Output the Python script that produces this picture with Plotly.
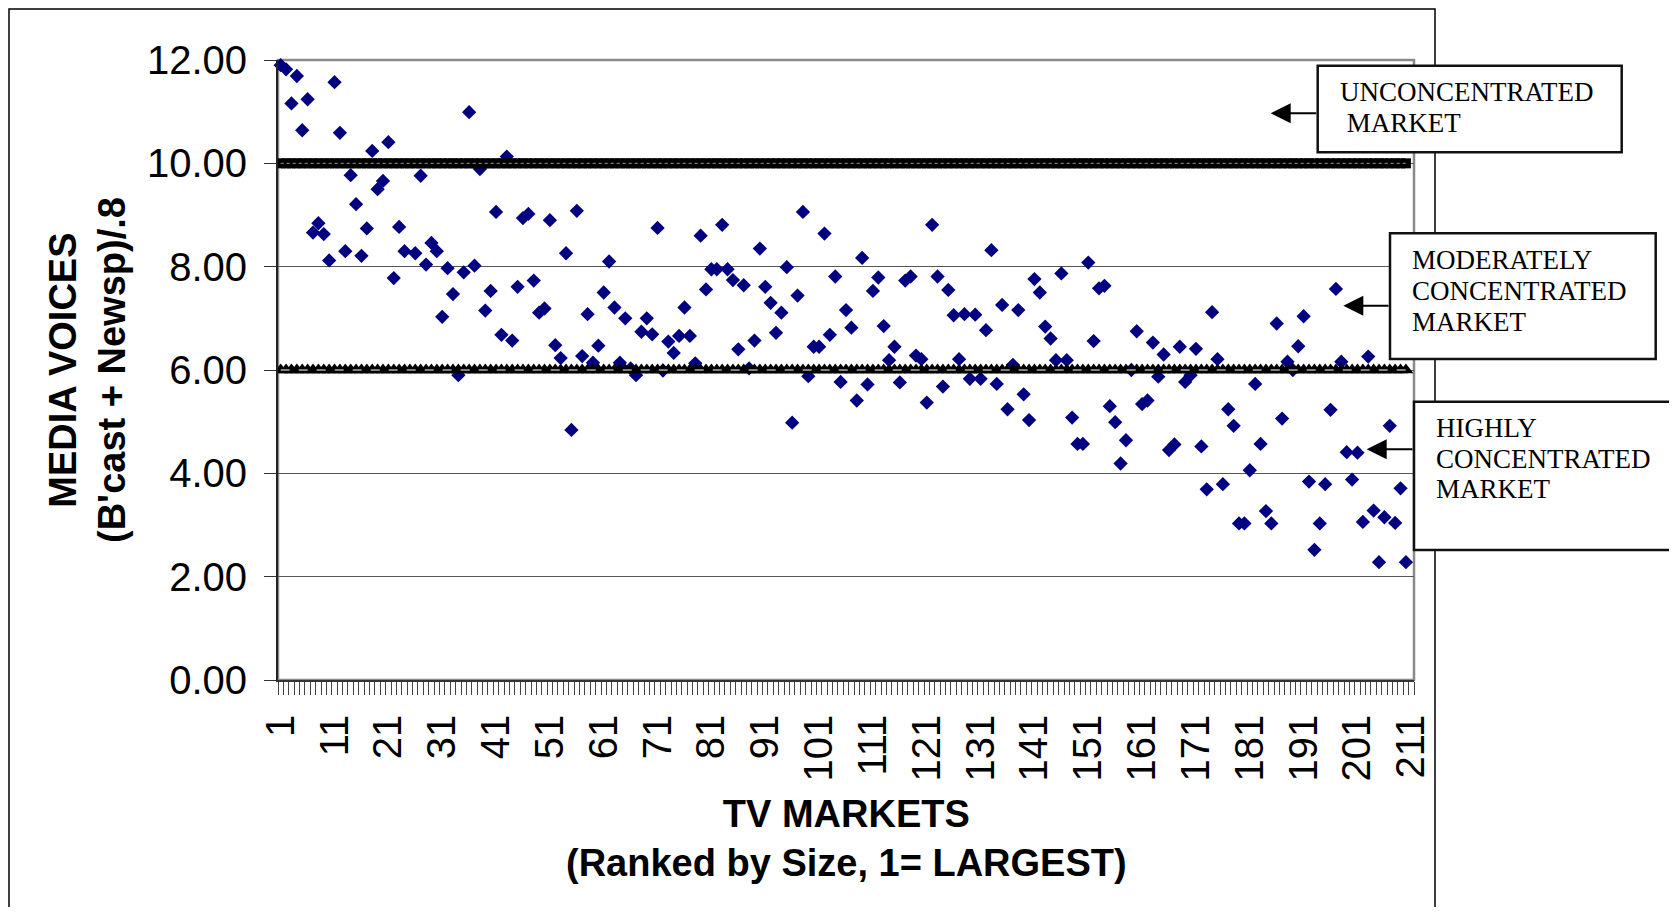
import plotly.graph_objects as go

# ---------- data ----------
markets = list(range(1, 211))
voices = [
    11.90, 11.82, 11.16, 11.69, 10.64, 11.24, 8.66, 8.84, 8.63, 8.12,
    11.57, 10.59, 8.30, 9.77, 9.21, 8.21, 8.74, 10.24, 9.50, 9.66,
    10.41, 7.78, 8.77, 8.30, None, 8.26, 9.76, 8.04, 8.46, 8.30,
    7.03, 7.97, 7.47, 5.90, 7.89, 10.99, 8.02, 9.89, 7.15, 7.53,
    9.06, 6.68, 10.13, 6.57, 7.61, 8.94, 9.02, 7.73, 7.11, 7.19,
    8.90, 6.48, 6.23, 8.26, 4.84, 9.08, 6.27, 7.08, 6.14, 6.47,
    7.50, 8.10, 7.21, 6.14, 7.00, 6.03, 5.90, 6.74, 7.00, 6.69,
    8.75, 5.99, 6.55, 6.33, 6.66, 7.21, 6.66, 6.13, 8.60, 7.56,
    7.95, 7.95, 8.81, 7.95, 7.74, 6.40, 7.64, 6.03, 6.57, 8.35,
    7.61, 7.30, 6.72, 7.11, 7.99, 4.98, 7.44, 9.06, 5.88, 6.45,
    6.45, 8.64, 6.68, 7.81, 5.77, 7.16, 6.82, 5.41, 8.17, 5.72,
    7.53, 7.79, 6.85, 6.19, 6.45, 5.76, 7.73, 7.81, 6.28, 6.21,
    5.37, 8.81, 7.81, 5.68, 7.55, 7.06, 6.21, 7.08, 5.83, 7.07,
    5.83, 6.77, 8.32, 5.73, 7.26, 5.24, 6.10, 7.16, 5.53, 5.03,
    7.76, 7.50, 6.84, 6.61, 6.19, 7.87, 6.19, 5.08, 4.57, 4.57,
    8.08, 6.56, 7.58, 7.63, 5.30, 4.99, 4.19, 4.64, 6.00, 6.75,
    5.34, 5.41, 6.53, 5.87, 6.30, 4.45, 4.56, 6.45, 5.77, 5.90,
    6.41, 4.52, 3.69, 7.12, 6.21, 3.79, 5.24, 4.92, 3.03, 3.03,
    4.06, 5.73, 4.57, 3.27, 3.03, 6.90, 5.06, 6.16, 6.00, 6.46,
    7.04, 3.84, 2.52, 3.03, 3.79, 5.23, 7.57, 6.16, 4.41, 3.88,
    4.40, 3.06, 6.26, 3.28, 2.28, 3.15, 4.92, 3.04, 3.71, 2.28,
]
# threshold series (drawn as marker lines in the original)
unconcentrated = [10.0] * len(markets)
highly_conc = [6.0] * len(markets)

x_ticks = list(range(1, 212, 10))
y_ticks = [0, 2, 4, 6, 8, 10, 12]

# ---------- geometry, in page pixels (page has an 8px body margin) ----------
OFF = 8
W, H = 1677 - 2 * OFF, 915 - 2 * OFF
L, R, T, B = 278, 1414, 60, 680


def px(x):
    return (x - L) / (R - L)


def py(y):
    return (B - y) / (B - T)


fig = go.Figure()

fig.add_trace(go.Scatter(
    x=markets, y=voices, mode="markers",
    marker=dict(symbol="diamond", size=11, color="#000080"),
    showlegend=False, cliponaxis=False))

# 10.00 line: dense black squares with a faint dotted core
fig.add_trace(go.Scatter(
    x=markets, y=unconcentrated, mode="markers",
    marker=dict(symbol="square", size=10, color="black", line=dict(width=0)),
    showlegend=False))
fig.add_trace(go.Scatter(
    x=markets, y=unconcentrated, mode="lines",
    line=dict(color="#9a9a9a", width=1, dash="dot"),
    showlegend=False, hoverinfo="skip"))

# 6.00 line: black triangles
fig.add_trace(go.Scatter(
    x=markets, y=highly_conc, mode="lines+markers",
    line=dict(color="black", width=2),
    marker=dict(symbol="triangle-up", size=13, color="black"),
    showlegend=False))
fig.add_trace(go.Scatter(
    x=markets, y=highly_conc, mode="lines",
    line=dict(color="white", width=1, dash="dash"),
    showlegend=False, hoverinfo="skip"))

shapes = [
    # outer chart frame
    dict(type="rect", xref="paper", yref="paper",
         x0=px(9), x1=px(1435), y0=py(960), y1=py(9),
         line=dict(color="black", width=1.5), layer="below"),
    # plot area frame
    dict(type="rect", xref="paper", yref="paper", x0=0, x1=1, y0=0, y1=1,
         line=dict(color="#8a8a8a", width=2.5), layer="below"),
]

# label boxes
boxes = [(1317.7, 1621.7, 65.7, 152.3), (1390, 1655.7, 233.3, 359),
         (1414, 1700, 401.7, 550)]
for x0, x1, y0, y1 in boxes:
    shapes.append(dict(type="rect", xref="paper", yref="paper",
                       x0=px(x0), x1=px(x1), y0=py(y1), y1=py(y0),
                       fillcolor="white", line=dict(color="#111111", width=2.5),
                       layer="above"))

serif = dict(family="Liberation Serif, Times New Roman, serif", size=27, color="black")
annotations = []
box_text = [
    (1338, [("UNCONCENTRATED", 92.5), (" MARKET", 122.5)]),
    (1410, [("MODERATELY", 260), ("CONCENTRATED", 290.5), ("MARKET", 321.7)]),
    (1434, [("HIGHLY", 428), ("CONCENTRATED", 458.5), ("MARKET", 489.2)]),
]
for xl, lines in box_text:
    for txt, yc in lines:
        annotations.append(dict(xref="paper", yref="paper", x=px(xl), y=py(yc),
                                text=txt.replace(" ", "&nbsp;"), showarrow=False,
                                xanchor="left", yanchor="middle", font=serif))

# arrows pointing into the chart
for tip_x, tail_x, yy in [(1270.7, 1317.7, 113.3), (1343.3, 1390, 305.7),
                          (1366.7, 1414, 449.3)]:
    annotations.append(dict(xref="paper", yref="paper", x=px(tip_x), y=py(yy),
                            ax=tail_x - tip_x, ay=0, text="", showarrow=True,
                            arrowhead=2, arrowsize=2, arrowwidth=2,
                            arrowcolor="black"))

bold = dict(family="Liberation Sans, Arial, sans-serif", size=38, color="black")
annotations.append(dict(xref="paper", yref="paper", x=px(87), y=0.5,
                        text="<b>MEDIA VOICES</b><br><b>(B'cast + Newsp)/.8</b>",
                        textangle=-90, showarrow=False, xanchor="center",
                        yanchor="middle", font=bold))
annotations.append(dict(xref="paper", yref="paper", x=0.5, y=py(839),
                        text="<b>TV MARKETS</b><br><b>(Ranked by Size, 1= LARGEST)</b>",
                        showarrow=False, xanchor="center", yanchor="middle",
                        font=bold))

fig.update_layout(
    width=W, height=H, autosize=False,
    margin=dict(l=L - OFF, r=W - (R - OFF), t=T - OFF, b=H - (B - OFF), pad=0),
    plot_bgcolor="white", paper_bgcolor="white",
    font=dict(family="Liberation Sans, Arial, sans-serif", color="black"),
    shapes=shapes, annotations=annotations,
    xaxis=dict(range=[0.5, 211.5], tickmode="array", tickvals=x_ticks,
               ticktext=[str(v) for v in x_ticks], tickangle=-90,
               tickfont=dict(size=40), ticks="outside", ticklen=13,
               tickcolor="rgba(0,0,0,0)", ticklabelstandoff=4,
               showgrid=False, zeroline=False,
               showline=True, linecolor="#333333", linewidth=1.5,
               minor=dict(tickmode="linear", tick0=0.5, dtick=1, ticks="outside",
                          ticklen=13, tickcolor="#444444", tickwidth=1,
                          showgrid=False)),
    yaxis=dict(range=[0, 12], tickmode="array", tickvals=y_ticks,
               tickformat=".2f", tickfont=dict(size=40),
               ticks="outside", ticklen=12, tickcolor="#333333", tickwidth=1,
               ticklabelstandoff=9,
               showgrid=True, gridcolor="#555555", gridwidth=1,
               zeroline=False, showline=True, linecolor="#222222", linewidth=2),
)

fig.write_html("out.html")
